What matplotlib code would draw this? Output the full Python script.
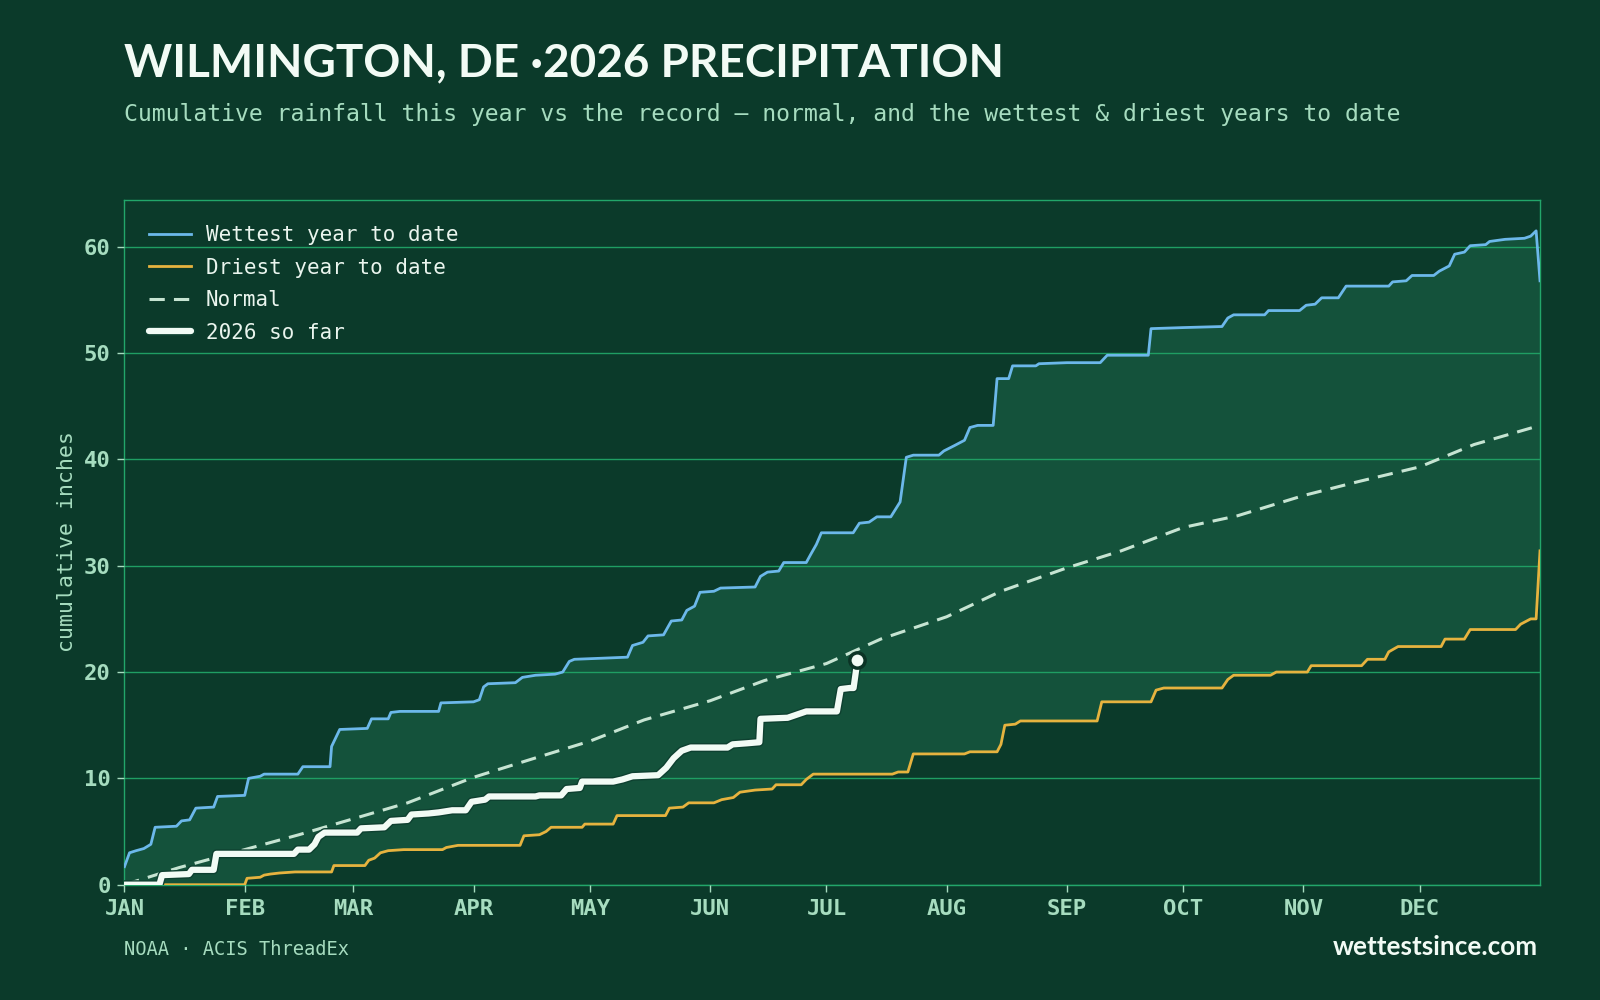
import numpy as np
import matplotlib.pyplot as plt
import matplotlib.patheffects as pe

# colours
bg = '#0b3a2a'
band = '#14523b'
grid_c = '#1f9e63'
mint = '#a6dcbf'
white = '#f2fbf5'

months = ['JAN', 'FEB', 'MAR', 'APR', 'MAY', 'JUN', 'JUL', 'AUG', 'SEP', 'OCT', 'NOV', 'DEC']
month_start = [0, 31, 59, 90, 120, 151, 181, 212, 243, 273, 304, 334]

# wettest year to date (day of year, cumulative inches)
wet_day = [0, 1.3, 3, 5, 6.8, 7.9, 13.4, 14.7, 16.8, 18.4, 23, 24, 31, 32, 35, 36, 44.7, 46,
           53, 53.4, 55.5, 62.6, 63.7, 68, 68.7, 71, 81, 81.6, 90, 91.5, 92.6, 93.7, 100.8,
           102.6, 106, 111, 113, 114.7, 116, 123, 129.7, 131, 133.7, 135, 139, 141, 143.7,
           145, 147, 148.4, 152, 153.7, 162.6, 164, 165.8, 168.7, 170, 175.8, 177, 178.4,
           179.7, 187.9, 189.5, 192, 194, 197.6, 200, 201.6, 203.4, 210, 211.3, 214, 216.6,
           218, 220, 224, 225, 228, 229, 235, 235.8, 243, 251.6, 253.4, 264, 264.7, 273, 283,
           284.5, 286, 294, 295, 303, 304.7, 307, 308.7, 313, 315, 326, 327, 330.5, 332,
           337.6, 339, 341.6, 343, 345.5, 347, 351, 352, 356, 361, 362.6, 364, 365]
wet_val = [1.7, 3.0, 3.2, 3.4, 3.8, 5.4, 5.5, 6.0, 6.1, 7.2, 7.3, 8.3, 8.4, 10.0, 10.2, 10.4, 10.4, 11.1,
           11.1, 13.0, 14.6, 14.7, 15.6, 15.6, 16.2, 16.3, 16.3, 17.1, 17.2, 17.4, 18.6, 18.9, 19.0,
           19.5, 19.7, 19.8, 20.0, 21.0, 21.2, 21.3, 21.4, 22.5, 22.8, 23.4, 23.5, 24.8, 24.9,
           25.8, 26.2, 27.5, 27.6, 27.9, 28.0, 29.0, 29.4, 29.5, 30.3, 30.3, 31.1, 32.0,
           33.1, 33.1, 34.0, 34.1, 34.6, 34.6, 36.0, 40.2, 40.4, 40.4, 40.8, 41.3, 41.8,
           43.0, 43.2, 43.2, 47.6, 47.6, 48.8, 48.8, 49.0, 49.1, 49.1, 49.8, 49.8, 52.3, 52.4, 52.5,
           53.3, 53.6, 53.6, 54.0, 54.0, 54.5, 54.6, 55.2, 55.2, 56.3, 56.3, 56.7, 56.8, 57.3,
           57.3, 57.7, 58.2, 59.3, 59.5, 60.1, 60.2, 60.5, 60.7, 60.8, 61.0, 61.5, 56.8]

# driest year to date
dry_day = [0, 31, 31.6, 35, 36, 37.6, 40, 44, 53.4, 54, 62, 63, 64.5, 66, 68, 72, 82, 83, 86,
           102, 103, 107, 108.7, 110, 118, 118.7, 126, 127, 139.5, 140.5, 144, 145.5, 152, 154,
           157, 158.7, 162.6, 167, 168, 174.5, 175.8, 177.6, 198, 199.5, 202, 203.4, 216.6, 218,
           225, 226, 227, 229.7, 231, 250.8, 252, 264.7, 266, 268, 283, 284.5, 286, 295.5, 297,
           305, 306, 319, 320.5, 325, 326, 328.4, 339.5, 340.5, 345.5, 347, 358.7, 360, 362.6,
           364, 365]
dry_val = [0, 0, 0.6, 0.7, 0.9, 1.0, 1.1, 1.2, 1.2, 1.8, 1.8, 2.3, 2.5, 3.0, 3.2, 3.3, 3.3, 3.5, 3.7,
           3.7, 4.6, 4.7, 5.0, 5.4, 5.4, 5.7, 5.7, 6.5, 6.5, 7.2, 7.3, 7.7, 7.7, 8.0,
           8.2, 8.7, 8.9, 9.0, 9.4, 9.4, 9.9, 10.4, 10.4, 10.6, 10.6, 12.3, 12.3, 12.5,
           12.5, 13.2, 15.0, 15.1, 15.4, 15.4, 17.2, 17.2, 18.3, 18.5, 18.5, 19.3, 19.7, 19.7, 20.0,
           20.0, 20.6, 20.6, 21.2, 21.2, 21.9, 22.4, 22.4, 23.1, 23.1, 24.0, 24.0, 24.5, 25.0,
           25.0, 31.4]

# normal
norm_day = [0, 14, 31, 45, 59, 73, 90, 104, 120, 134, 151, 165, 181, 195, 212, 226, 243, 257,
            273, 287, 304, 318, 334, 348, 365]
norm_val = [0, 1.6, 3.3, 4.7, 6.2, 7.7, 10.1, 11.7, 13.5, 15.5, 17.3, 19.2, 20.8, 23.1, 25.2,
            27.6, 29.8, 31.4, 33.6, 34.7, 36.6, 37.9, 39.3, 41.4, 43.2]

# 2026 so far
ytd_day = [0, 9, 9.7, 16.6, 17.4, 23, 23.7, 43.7, 44.7, 47.6, 49, 50, 51.6, 60, 61, 67, 68.7, 73,
           74, 78.4, 81, 84.5, 88, 89.5, 93, 94, 106, 107, 112.6, 114, 117.4, 118, 126, 128.4,
           131, 137.6, 139.7, 141.6, 143.7, 146, 155.5, 156.8, 160.5, 163.7, 164, 171, 172.6,
           175.8, 183.7, 184.7, 187, 188, 189]
ytd_val = [0, 0, 0.9, 1.0, 1.4, 1.4, 2.9, 2.9, 3.3, 3.3, 3.8, 4.5, 4.9, 4.9, 5.3, 5.4, 6.0, 6.1,
           6.6, 6.7, 6.8, 7.0, 7.0, 7.8, 8.0, 8.3, 8.3, 8.4, 8.4, 9.0, 9.1, 9.7, 9.7, 9.9,
           10.2, 10.3, 11.0, 11.9, 12.6, 12.9, 12.9, 13.2, 13.3, 13.4, 15.6, 15.7, 15.9,
           16.3, 16.3, 18.4, 18.5, 18.5, 21.1]

mono = 'DejaVu Sans Mono'
head = 'Lato'

fig = plt.figure(figsize=(16, 10), dpi=100)
fig.patch.set_facecolor(bg)
ax = fig.add_axes([0.0778, 0.1153, 0.8847, 0.6847])
ax.set_facecolor(bg)

# band between driest and wettest
ax.fill(np.r_[wet_day, dry_day[::-1]], np.r_[wet_val, dry_val[::-1]],
        color=band, lw=0, zorder=1)

ax.plot(wet_day, wet_val, color='#6cb8ea', lw=2, label='Wettest year to date', zorder=3)
ax.plot(dry_day, dry_val, color='#e6b33f', lw=2, label='Driest year to date', zorder=3)
ax.plot(norm_day, norm_val, color='#c6e4d2', lw=2.2, dashes=(5, 3), label='Normal', zorder=3)
ax.plot(ytd_day, ytd_val, color=white, lw=4.5, solid_capstyle='round', solid_joinstyle='round',
        label='2026 so far', zorder=4,
        path_effects=[pe.Stroke(linewidth=6.5, foreground='#0e4030'), pe.Normal()])
ax.plot(ytd_day[-1], ytd_val[-1], 'o', ms=11, mfc=white, mec='#0b3325', mew=2.5, zorder=5)

ax.set_xlim(0, 365)
ax.set_ylim(0, 64.4)
ax.set_xticks(month_start)
ax.set_xticklabels(months)
ax.set_yticks([0, 10, 20, 30, 40, 50, 60])
ax.grid(axis='y', color=grid_c, lw=1, zorder=2)
ax.set_axisbelow(False)
for s in ax.spines.values():
    s.set_color('#22a66a')
    s.set_linewidth(1)
ax.tick_params(colors=mint, length=5, width=1, pad=5)
for lab in ax.get_xticklabels() + ax.get_yticklabels():
    lab.set_fontfamily(mono)
    lab.set_fontweight('bold')
    lab.set_fontsize(16)
    lab.set_color(mint)

leg = ax.legend(loc='upper left', frameon=False, prop={'family': mono, 'size': 15},
                handlelength=2.0, handletextpad=0.7, labelspacing=0.6,
                borderpad=0.6, borderaxespad=0.6)
for t in leg.get_texts():
    t.set_color('#eaf5ee')

fig.text(0.0775, 0.9235, 'WILMINGTON, DE ·2026 PRECIPITATION', family=head,
         weight='bold', size=33, color=white, va='baseline')
fig.text(0.0775, 0.8785, 'Cumulative rainfall this year vs the record — normal, and the wettest & driest years to date',
         family=mono, size=16.65, color=mint, va='baseline')
fig.text(0.042, 0.458, 'cumulative inches', family=mono, size=15.5, color=mint,
         rotation=90, ha='center', va='center')
fig.text(0.0775, 0.045, 'NOAA · ACIS ThreadEx', family=mono, size=13.5, color=mint, va='baseline')
fig.text(0.961, 0.045, 'wettestsince.com', family=head, weight='bold', size=18.8,
         color=white, ha='right', va='baseline')

fig.savefig('out.png', dpi=100, facecolor=bg)
